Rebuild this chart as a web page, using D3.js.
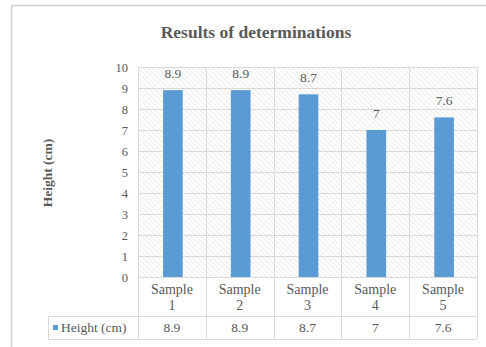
<!DOCTYPE html>
<html>
<head>
<meta charset="utf-8">
<script src="https://cdn.jsdelivr.net/npm/d3@7"></script>
<style>
  html, body { margin: 0; padding: 0; background: #fff; }
  svg { display: block; }
  text { font-family: "Liberation Serif", "DejaVu Serif", serif; fill: #595959; }
</style>
</head>
<body>
<svg id="chart" width="486" height="347"></svg>
<script>
const categories = ["Sample 1", "Sample 2", "Sample 3", "Sample 4", "Sample 5"];
const heights = [8.9, 8.9, 8.7, 7, 7.6];
const yTicks = [0, 1, 2, 3, 4, 5, 6, 7, 8, 9, 10];
const seriesName = "Height (cm)";
const chartTitle = "Results of determinations";

const svg = d3.select("#chart");
const W = 486, H = 347;
const plot = { left: 138, right: 477, top: 67, bottom: 277 };

// chart frame
svg.append("rect").attr("x", 11.5).attr("y", 5.5).attr("width", W).attr("height", H)
  .attr("fill", "#fff").attr("stroke", "#d0d0d0").attr("stroke-width", 1.5);

// diagonal hatch for plot background
const defs = svg.append("defs");
const pat = defs.append("pattern").attr("id", "hatch")
  .attr("patternUnits", "userSpaceOnUse").attr("width", 5).attr("height", 5);
pat.append("rect").attr("width", 5).attr("height", 5).attr("fill", "#fff");
pat.append("path").attr("d", "M-1,-1 L6,6 M-1,4 L1,6 M4,-1 L6,1")
  .attr("stroke", "#e8e8e8").attr("stroke-width", 1);

const x = d3.scaleBand().domain(categories).range([plot.left, plot.right]).paddingInner(0).paddingOuter(0);
const y = d3.scaleLinear().domain([0, 10]).range([plot.bottom, plot.top]);

svg.append("rect").attr("x", plot.left).attr("y", plot.top)
  .attr("width", plot.right - plot.left).attr("height", plot.bottom - plot.top)
  .attr("fill", "url(#hatch)");

// horizontal gridlines
svg.append("g").selectAll("line").data(yTicks).join("line")
  .attr("x1", plot.left).attr("x2", plot.right)
  .attr("y1", d => Math.round(y(d)) + 0.5).attr("y2", d => Math.round(y(d)) + 0.5)
  .attr("stroke", "#d9d9d9").attr("stroke-width", 1);

// vertical gridlines at category boundaries, running down through the data table
const bounds = categories.map(c => x(c)).concat([plot.right]);
svg.append("g").selectAll("line").data(bounds).join("line")
  .attr("x1", d => Math.round(d) + 0.5).attr("x2", d => Math.round(d) + 0.5)
  .attr("y1", plot.top).attr("y2", 339)
  .attr("stroke", "#d9d9d9").attr("stroke-width", 1);

// y axis labels
const yAxis = d3.axisLeft(y).tickValues(yTicks).tickSize(0).tickPadding(10).tickFormat(d3.format("d"));
const ya = svg.append("g").attr("transform", `translate(${plot.left},0)`).call(yAxis);
ya.attr("font-family", null);
ya.select(".domain").remove();
ya.selectAll("text").attr("font-size", 12.5).attr("fill", "#595959");

// bars
const barW = x.bandwidth() * 0.29;
svg.append("g").selectAll("rect").data(heights).join("rect")
  .attr("x", (d, i) => x(categories[i]) + x.bandwidth() / 2 - barW / 2 + 1)
  .attr("y", d => y(d))
  .attr("width", barW)
  .attr("height", d => y(0) - y(d))
  .attr("fill", "#5b9bd5");

// value labels above bars
svg.append("g").selectAll("text").data(heights).join("text")
  .attr("x", (d, i) => x(categories[i]) + x.bandwidth() / 2 + 1)
  .attr("y", d => y(d) - 12)
  .attr("text-anchor", "middle").attr("font-size", 13.5)
  .text(d => d);

// title
svg.append("text").attr("x", 256).attr("y", 38).attr("text-anchor", "middle")
  .attr("font-size", 17.5).attr("font-weight", "bold").text(chartTitle);

// y axis title
svg.append("text").attr("transform", "translate(52,173) rotate(-90)")
  .attr("text-anchor", "middle").attr("font-size", 13.5).attr("font-weight", "bold")
  .text(seriesName);

// data table
svg.append("line").attr("x1", 48).attr("x2", plot.right).attr("y1", 316.5).attr("y2", 316.5)
  .attr("stroke", "#d9d9d9");
svg.append("line").attr("x1", 48).attr("x2", plot.right).attr("y1", 339.5).attr("y2", 339.5)
  .attr("stroke", "#d9d9d9");
svg.append("line").attr("x1", 48.5).attr("x2", 48.5).attr("y1", 316).attr("y2", 339)
  .attr("stroke", "#d9d9d9");

// category labels (two lines each)
const catG = svg.append("g").selectAll("g").data(categories).join("g");
catG.each(function(c) {
  const parts = c.split(" ");
  const g = d3.select(this);
  const cx = x(c) + x.bandwidth() / 2;
  g.append("text").attr("x", cx).attr("y", 294).attr("text-anchor", "middle")
    .attr("font-size", 14).text(parts[0]);
  g.append("text").attr("x", cx).attr("y", 310).attr("text-anchor", "middle")
    .attr("font-size", 14).text(parts[1]);
});

// values row
svg.append("g").selectAll("text").data(heights).join("text")
  .attr("x", (d, i) => x(categories[i]) + x.bandwidth() / 2)
  .attr("y", 332).attr("text-anchor", "middle").attr("font-size", 13.5)
  .text(d => d);

// legend key in table
svg.append("rect").attr("x", 53).attr("y", 325).attr("width", 5).attr("height", 5).attr("fill", "#5b9bd5");
svg.append("text").attr("x", 61).attr("y", 332).attr("font-size", 13.5).text(seriesName);
</script>
</body>
</html>
